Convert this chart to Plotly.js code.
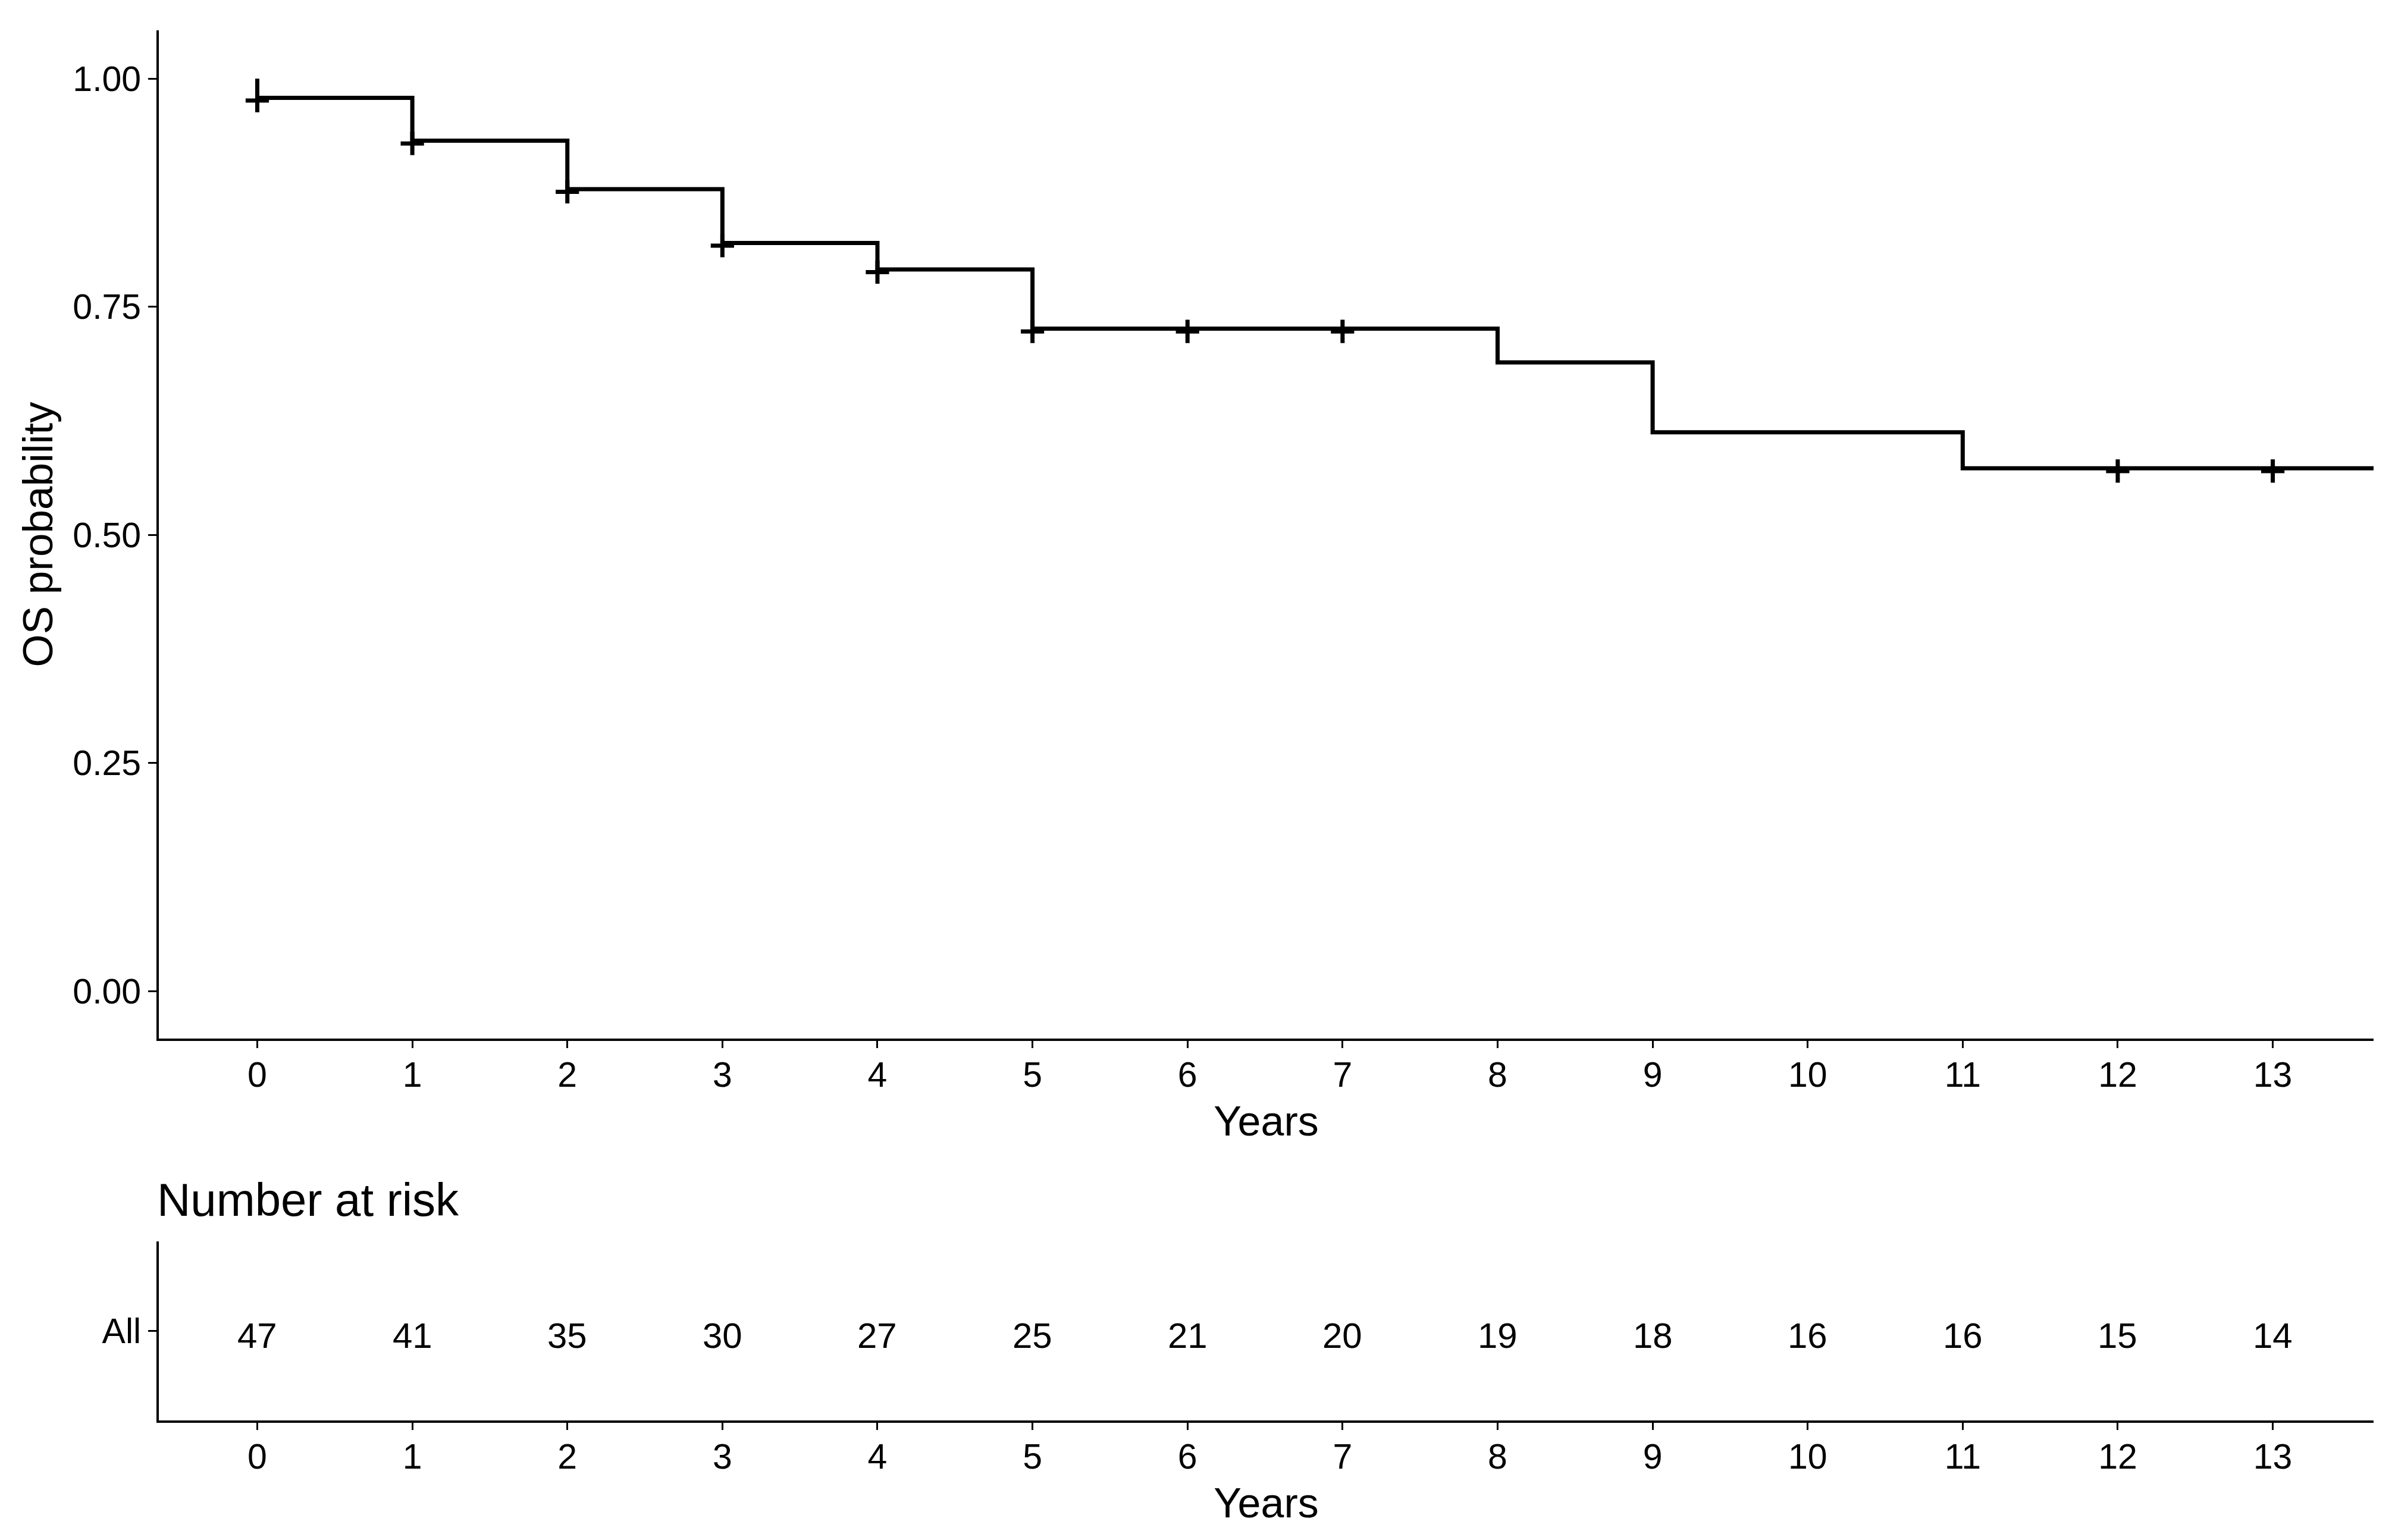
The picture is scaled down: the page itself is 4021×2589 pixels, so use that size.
<!DOCTYPE html>
<html>
<head>
<meta charset="utf-8">
<script src="https://cdn.plot.ly/plotly-3.0.1.min.js"></script>
<style>
  html, body { margin: 0; padding: 0; background: #ffffff; }
  #chart { width: 4021px; height: 2589px; }
</style>
</head>
<body>
<div id="chart"></div>
<script>
// ---- Data ----
// Kaplan-Meier step curve: times (years) and survival probability after each step
const stepTimes = [0, 0, 1, 2, 3, 4, 5, 8, 9, 11, 13.65];
const stepSurv  = [1.000, 0.979, 0.932, 0.879, 0.820, 0.791, 0.726, 0.689, 0.6125, 0.573, 0.573];

// Censoring marks (centres as read, drawn a hair below the curve in the original)
const censorTimes = [0, 1, 2, 3, 4, 5, 6, 7, 12, 13];
const censorSurv  = [0.976, 0.929, 0.876, 0.817, 0.788, 0.723, 0.723, 0.723, 0.570, 0.570];

// Number at risk table
const riskTimes  = [0, 1, 2, 3, 4, 5, 6, 7, 8, 9, 10, 11, 12, 13];
const riskCounts = [47, 41, 35, 30, 27, 25, 21, 20, 19, 18, 16, 16, 15, 14];
const riskGroup  = "All";

// Axis ticks
const yTicks = [0, 0.25, 0.5, 0.75, 1.0];
const yTickText = ["0.00", "0.25", "0.50", "0.75", "1.00"];
const xTicks = [0, 1, 2, 3, 4, 5, 6, 7, 8, 9, 10, 11, 12, 13];

// ---- Layout geometry ----
const W = 4021, H = 2589;
const FONT = "Liberation Sans, Arial, Helvetica, sans-serif";
const px = v => v / W;
const py = v => (H - v) / H;

const traces = [
  {
    x: stepTimes, y: stepSurv,
    type: "scatter", mode: "lines",
    line: { shape: "hv", color: "#000000", width: 7 },
    xaxis: "x", yaxis: "y",
    hoverinfo: "skip", showlegend: false
  },
  {
    x: censorTimes, y: censorSurv,
    type: "scatter", mode: "markers",
    marker: { symbol: "cross-thin", size: 28, color: "#000000",
              line: { color: "#000000", width: 7 } },
    xaxis: "x", yaxis: "y",
    hoverinfo: "skip", showlegend: false
  },
  {
    // invisible anchor trace so the risk-table axes are drawn
    x: riskTimes, y: riskTimes.map(() => 1),
    type: "scatter", mode: "markers",
    marker: { size: 1, opacity: 0 },
    xaxis: "x2", yaxis: "y2",
    hoverinfo: "skip", showlegend: false
  }
];

const riskAnnotations = riskTimes.map((t, i) => ({
  x: t, y: 1, xref: "x2", yref: "y2",
  text: String(riskCounts[i]),
  showarrow: false,
  xanchor: "center", yanchor: "middle",
  yshift: -8,
  font: { family: FONT, size: 60, color: "#000000" }
}));

const xCommon = {
  range: [-0.635, 13.65],
  tickvals: xTicks,
  ticktext: xTicks.map(String),
  showline: true, linecolor: "#000000", linewidth: 4,
  ticks: "outside", ticklen: 12, tickwidth: 3, tickcolor: "#000000",
  ticklabelstandoff: -6,
  tickfont: { family: FONT, size: 59, color: "#000000" },
  showgrid: false, zeroline: false,
  fixedrange: true,
  title: { text: "Years", font: { family: FONT, size: 70, color: "#000000" }, standoff: 22 }
};

const layout = {
  width: W, height: H,
  margin: { l: 0, r: 0, t: 0, b: 0, pad: 0 },
  paper_bgcolor: "#ffffff",
  plot_bgcolor: "#ffffff",
  showlegend: false,
  xaxis: Object.assign({}, xCommon, {
    domain: [px(267), px(3990)],
    anchor: "y"
  }),
  yaxis: {
    domain: [py(1746), py(51)],
    anchor: "x",
    range: [-0.052, 1.053],
    tickvals: yTicks, ticktext: yTickText,
    showline: true, linecolor: "#000000", linewidth: 4,
    ticks: "outside", ticklen: 14, tickwidth: 3, tickcolor: "#000000",
    tickfont: { family: FONT, size: 59, color: "#000000" },
    showgrid: false, zeroline: false, fixedrange: true,
    title: { text: "OS probability", font: { family: FONT, size: 71, color: "#000000" }, standoff: 12 }
  },
  xaxis2: Object.assign({}, xCommon, {
    domain: [px(267), px(3990)],
    anchor: "y2"
  }),
  yaxis2: {
    domain: [py(2388), py(2087)],
    anchor: "x2",
    range: [0, 2],
    tickvals: [1], ticktext: [riskGroup],
    showline: true, linecolor: "#000000", linewidth: 4,
    ticks: "outside", ticklen: 14, tickwidth: 3, tickcolor: "#000000",
    tickfont: { family: FONT, size: 59, color: "#000000" },
    showgrid: false, zeroline: false, fixedrange: true
  },
  annotations: [
    {
      text: "Number at risk",
      xref: "paper", yref: "paper",
      x: px(262), y: py(2017),
      xanchor: "left", yanchor: "middle",
      showarrow: false,
      font: { family: FONT, size: 78, color: "#000000" }
    }
  ].concat(riskAnnotations)
};

Plotly.newPlot("chart", traces, layout, { displayModeBar: false, staticPlot: true });
</script>
</body>
</html>
